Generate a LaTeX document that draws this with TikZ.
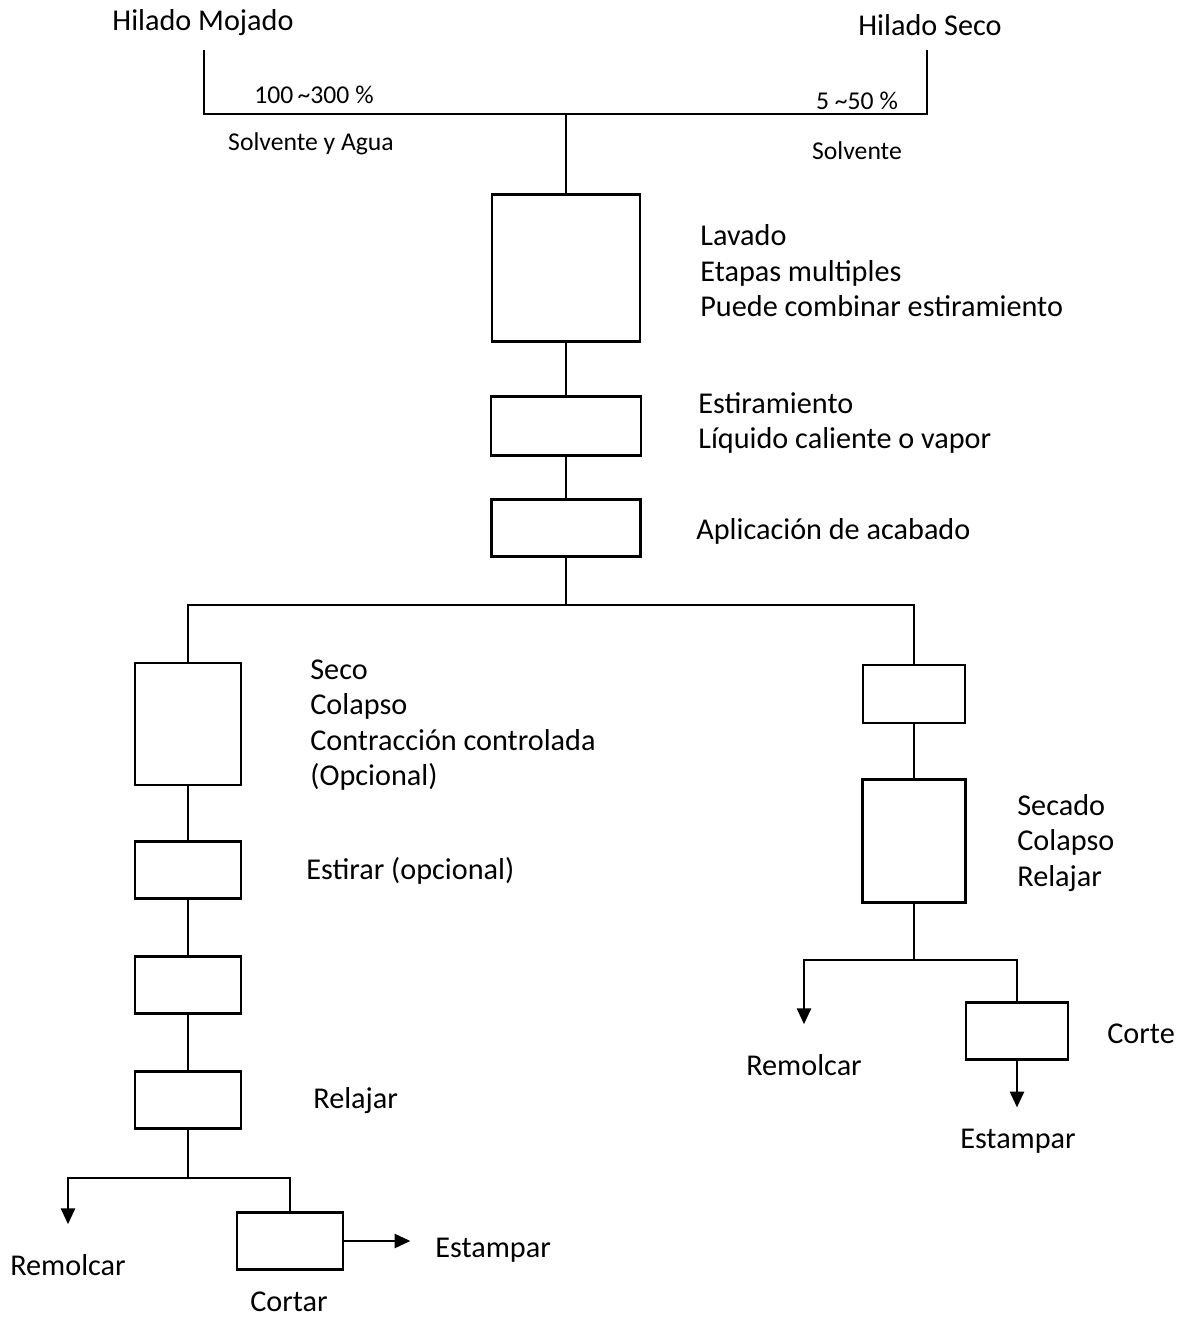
\documentclass[tikz,border=0pt]{standalone}
\usepackage{fontspec}
\setmainfont{Carlito}
\usetikzlibrary{positioning,shapes,arrows.meta}
\tikzstyle{block} = [draw, line width=1.4pt, minimum width=2.12cm, minimum height=1.14cm]
\tikzstyle{txt} = [anchor=west, align=left, inner sep=0pt, font=\fontsize{17.2}{20.2}\selectfont]
\tikzstyle{small} = [inner sep=0pt, font=\fontsize{14.6}{16}\selectfont]
\tikzstyle{line} = [line width=1.4pt]
\tikzstyle{arrow} = [line width=1.4pt, -{Triangle[length=9pt,width=8pt]}]

\begin{document}
\begin{tikzpicture}[x=0.02cm, y=-0.02cm]
        \useasboundingbox (0,0) rectangle (1180,1319);
        %Inputs
        \node [txt, anchor=center] (wet) at (203,23) {Hilado Mojado};
        \node [txt, anchor=center] (dry) at (930,25) {Hilado Seco};
        \coordinate (wetin) at (204,50);
        \coordinate (dryin) at (927,50);
        \coordinate (join) at (566,114);
        \node [small] (pctwet) at (314,95) {100\,\textasciitilde300 \%};
        \node [small] (pctdry) at (857,101) {5 \textasciitilde50 \%};
        \node [small] (solwet) at (311,144) {Solvente y Agua};
        \node [small] (soldry) at (857,151) {Solvente};
        %Blocks
        \node [block, minimum width=2.96cm, minimum height=2.94cm] (lavado) at (566,268) {};
        \node [block, minimum width=3cm, minimum height=1.18cm] (estira) at (566,426) {};
        \node [block, minimum width=2.98cm] (acabado) at (566,528) {};
        \coordinate (split) at (566,605);
        \node [block, minimum height=2.44cm] (seco) at (188,724) {};
        \node [block] (estirar) at (188,870) {};
        \node [block] (blank) at (188,985) {};
        \node [block] (relajar) at (188,1100) {};
        \coordinate (splitl) at (188,1178);
        \node [block] (cortar) at (290,1241) {};
        \node [block, minimum width=2.04cm, minimum height=1.16cm] (blankr) at (914,694) {};
        \node [block, minimum width=2.06cm, minimum height=2.46cm] (secado) at (914,841) {};
        \coordinate (splitr) at (914,960);
        \node [block, minimum width=2.04cm] (corte) at (1017,1031) {};
        %Texts
        \node [txt] (lavadotxt) at (700,271) {Lavado\\Etapas multiples\\Puede combinar estiramiento};
        \node [txt] (estiratxt) at (698,423) {Estiramiento\\Líquido caliente o vapor};
        \node [txt] (acabadotxt) at (696,531) {Aplicación de acabado};
        \node [txt] (secotxt) at (310,725) {Seco\\Colapso\\Contracción controlada\\(Opcional)};
        \node [txt] (estirartxt) at (306,871) {Estirar (opcional)};
        \node [txt] (relajartxt) at (313,1101) {Relajar};
        \node [txt] (secadotxt) at (1017,843) {Secado\\Colapso\\Relajar};
        \node [txt] (cortetxt) at (1107,1034) {Corte};
        \node [txt, anchor=center] (remolcarl) at (68,1265) {Remolcar};
        \node [txt, anchor=center] (cortartxt) at (289,1302) {Cortar};
        \node [txt] (estamparl) at (435,1250) {Estampar};
        \node [txt, anchor=center] (remolcarr) at (804,1065) {Remolcar};
        \node [txt, anchor=center] (estamparr) at (1018,1141) {Estampar};
        %Lines
        \draw [line] (wetin) |- (join) -| (dryin);
        \draw [line] (join) -- (lavado.north);
        \draw [line] (lavado) -- (estira);
        \draw [line] (estira) -- (acabado);
        \draw [line] (acabado.south) -- (split);
        \draw [line] (seco.north) |- (split) -| (blankr.north);
        \draw [line] (seco) -- (estirar);
        \draw [line] (estirar) -- (blank);
        \draw [line] (blank) -- (relajar);
        \draw [line] (relajar.south) -- (splitl);
        \draw [line] (blankr) -- (secado);
        \draw [line] (secado.south) -- (splitr);
        %Arrows
        \draw [arrow] (splitl) -| ([yshift=17pt]remolcarl.north);
        \draw [line] (splitl) -| (cortar.north);
        \draw [arrow] (cortar.east) -- ([xshift=-14pt]estamparl.west |- cortar.east);
        \draw [arrow] (splitr) -| ([yshift=17pt]remolcarr.north);
        \draw [line] (splitr) -| (corte.north);
        \draw [arrow] (corte.south) -- ([yshift=12pt]estamparr.north -| corte.south);
\end{tikzpicture}
\end{document}
